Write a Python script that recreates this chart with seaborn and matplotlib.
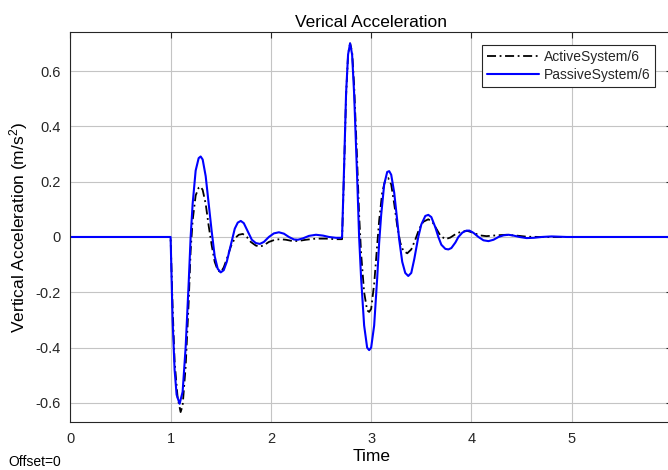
import matplotlib
matplotlib.use("Agg")
import matplotlib.pyplot as plt
import seaborn as sns
import pandas as pd

# ---- data ----
passive_t = [0.00, 1.00, 1.02, 1.04, 1.06, 1.09, 1.12, 1.15, 1.18, 1.20, 1.22, 1.25, 1.28, 1.30,
             1.32, 1.35, 1.38, 1.41, 1.44, 1.47, 1.50, 1.53, 1.56, 1.60, 1.64, 1.67, 1.70, 1.73,
             1.77, 1.81, 1.85, 1.89, 1.93, 1.98, 2.03, 2.08, 2.13, 2.18, 2.23, 2.27, 2.32, 2.38,
             2.45, 2.52, 2.58, 2.65, 2.70, 2.71, 2.73, 2.75, 2.77, 2.79, 2.81, 2.83, 2.86, 2.88,
             2.90, 2.93, 2.96, 2.98, 3.00, 3.03, 3.06, 3.08, 3.10, 3.13, 3.16, 3.18, 3.20, 3.23,
             3.26, 3.28, 3.31, 3.34, 3.37, 3.40, 3.43, 3.47, 3.50, 3.54, 3.57, 3.60, 3.64, 3.67,
             3.70, 3.74, 3.77, 3.80, 3.84, 3.87, 3.91, 3.95, 3.98, 4.02, 4.07, 4.12, 4.17, 4.22,
             4.27, 4.32, 4.37, 4.42, 4.48, 4.55, 4.62, 4.70, 4.80, 4.95, 6.00]
passive_a = [0.000, 0.000, -0.300, -0.480, -0.570, -0.603, -0.560, -0.400, -0.170, 0.000, 0.120, 0.240, 0.285, 0.291,
             0.280, 0.220, 0.120, 0.020, -0.070, -0.115, -0.128, -0.120, -0.090, -0.030, 0.030, 0.052, 0.058, 0.050,
             0.020, -0.010, -0.022, -0.025, -0.018, 0.000, 0.013, 0.017, 0.012, 0.000, -0.009, -0.010, -0.005, 0.004,
             0.008, 0.005, 0.000, -0.003, -0.003, 0.000, 0.250, 0.520, 0.660, 0.700, 0.660, 0.520, 0.220, 0.000,
             -0.150, -0.320, -0.400, -0.409, -0.400, -0.320, -0.150, -0.020, 0.080, 0.190, 0.235, 0.238, 0.225, 0.160,
             0.060, -0.010, -0.090, -0.130, -0.141, -0.130, -0.080, 0.000, 0.045, 0.076, 0.080, 0.072, 0.035, 0.000,
             -0.028, -0.043, -0.045, -0.040, -0.020, 0.000, 0.016, 0.023, 0.023, 0.015, 0.000, -0.012, -0.015, -0.010,
             0.000, 0.006, 0.008, 0.005, 0.000, -0.004, -0.003, 0.000, 0.002, 0.000, 0.000]

active_t = [0.00, 1.00, 1.02, 1.04, 1.07, 1.10, 1.12, 1.15, 1.18, 1.20, 1.22, 1.25, 1.28, 1.30,
            1.32, 1.35, 1.38, 1.41, 1.44, 1.47, 1.50, 1.53, 1.56, 1.60, 1.64, 1.68, 1.72, 1.76,
            1.80, 1.85, 1.89, 1.93, 1.98, 2.04, 2.09, 2.15, 2.22, 2.28, 2.35, 2.45, 2.55, 2.65,
            2.70, 2.71, 2.73, 2.75, 2.77, 2.79, 2.81, 2.83, 2.86, 2.88, 2.90, 2.93, 2.96, 2.98,
            3.00, 3.03, 3.06, 3.08, 3.11, 3.14, 3.17, 3.20, 3.23, 3.26, 3.29, 3.32, 3.36, 3.40,
            3.44, 3.48, 3.52, 3.57, 3.61, 3.65, 3.69, 3.74, 3.79, 3.84, 3.90, 3.96, 4.02, 4.08,
            4.15, 4.25, 4.35, 4.45, 4.55, 4.70, 6.00]
active_a = [0.000, 0.000, -0.250, -0.450, -0.580, -0.633, -0.610, -0.470, -0.240, -0.050, 0.060, 0.150, 0.178, 0.182,
            0.170, 0.120, 0.040, -0.030, -0.090, -0.120, -0.128, -0.110, -0.080, -0.035, -0.005, 0.008, 0.011, 0.000,
            -0.018, -0.031, -0.035, -0.030, -0.018, -0.010, -0.008, -0.010, -0.015, -0.014, -0.010, -0.006, -0.006, -0.008,
            -0.008, -0.008, 0.240, 0.510, 0.660, 0.700, 0.670, 0.550, 0.280, 0.080, -0.060, -0.200, -0.265, -0.271,
            -0.260, -0.170, -0.030, 0.060, 0.160, 0.205, 0.213, 0.190, 0.120, 0.040, -0.020, -0.050, -0.059, -0.045,
            -0.010, 0.030, 0.055, 0.064, 0.055, 0.030, 0.005, -0.008, -0.002, 0.010, 0.020, 0.022, 0.015, 0.006,
            0.003, 0.006, 0.008, 0.005, 0.001, 0.000, 0.000]

x_ticks = [0, 1, 2, 3, 4, 5, 6]
y_ticks = [-0.6, -0.4, -0.2, 0, 0.2, 0.4, 0.6]
y_tick_labels = ["-0.6", "-0.4", "-0.2", "0", "0.2", "0.4", "0.6"]

sns.set_theme(style="white")
plt.rcParams["font.family"] = ["Liberation Sans", "DejaVu Sans"]
plt.rcParams["mathtext.fontset"] = "custom"
plt.rcParams["mathtext.rm"] = "Liberation Sans"
plt.rcParams["mathtext.it"] = "Liberation Sans"

df_a = pd.DataFrame({"t": active_t, "a": active_a})
df_p = pd.DataFrame({"t": passive_t, "a": passive_a})

fig = plt.figure(figsize=(6.68, 4.70), dpi=100)
ax = fig.add_axes([70.3 / 668, (470 - 422.3) / 470, (672 - 70.3) / 668, (422.3 - 32.3) / 470])

sns.lineplot(data=df_a, x="t", y="a", ax=ax, sort=False, color="black", linewidth=1.3,
             linestyle=(0, (5, 2, 1, 2)), label="ActiveSystem/6")
sns.lineplot(data=df_p, x="t", y="a", ax=ax, sort=False, color="#0000ff", linewidth=1.5,
             label="PassiveSystem/6")

ax.set_xlim(0, 6)
ax.set_ylim(-0.670, 0.740)
ax.set_xticks(x_ticks)
ax.set_yticks(y_ticks)
ax.set_yticklabels(y_tick_labels)
ax.grid(True, color="#c4c4c4", linewidth=0.8)
ax.set_axisbelow(True)
for s in ax.spines.values():
    s.set_color("#262626")
    s.set_linewidth(0.8)
ax.tick_params(direction="in", length=4, width=0.8, color="#262626", labelcolor="#262626",
               labelsize=10.5, top=True, right=True, pad=7)

ax.set_title("Verical Acceleration", fontsize=12.5, color="black", pad=4)
ax.set_xlabel("Time", fontsize=12.5, color="black", labelpad=2)
ax.set_ylabel("Vertical Acceleration (m/s$^2$)", fontsize=12.5, color="black", labelpad=4)

leg = ax.legend(loc="upper right", bbox_to_anchor=((655 - 70.3) / (672 - 70.3), (422.3 - 45) / 390),
                fontsize=10, frameon=True, fancybox=False, handlelength=3.7, handletextpad=0.35,
                labelspacing=0.3, borderpad=0.35, borderaxespad=0)
leg.get_frame().set_edgecolor("#262626")
leg.get_frame().set_linewidth(0.8)
leg.get_frame().set_alpha(1)

fig.text(8 / 668, 1 - 462 / 470, "Offset=0", fontsize=10, va="center", ha="left", color="black")

fig.savefig("out.png", dpi=100)
